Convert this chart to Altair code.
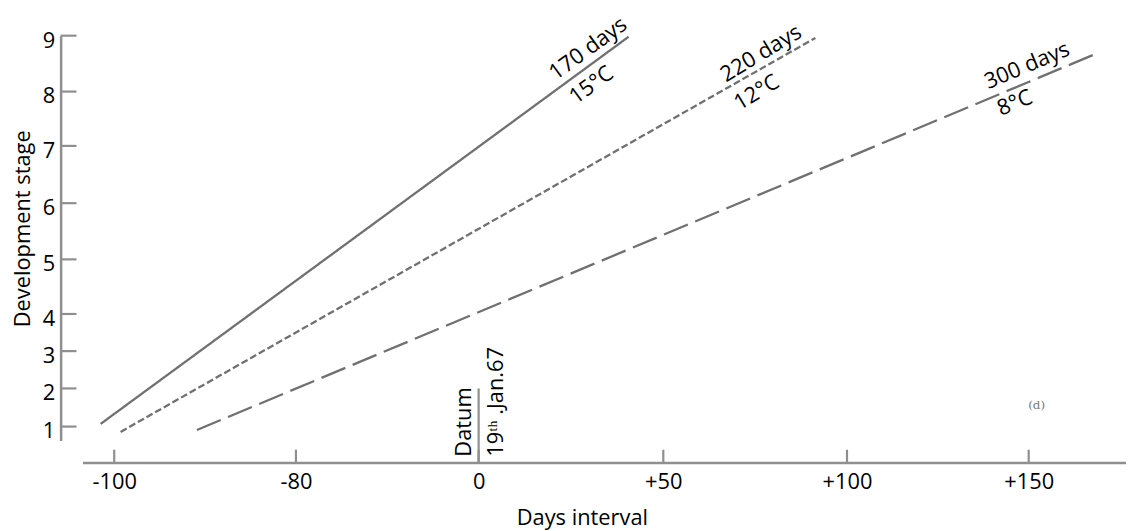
import altair as alt
import pandas as pd

# ---------------- data ----------------
x_ticks = [-100, -80, 0, 50, 100, 150]
x_tick_labels = ["-100", "-80", "0", "+50", "+100", "+150"]
y_ticks = [1, 2, 3, 4, 5, 6, 7, 8, 9]

series = ["170 days", "220 days", "300 days"]
temps = ["15°C", "12°C", "8°C"]
x_start = [-101.5, -99.3, -90.9]
x_end = [40.6, 91.4, 169.4]
y_start = [1.07, 0.86, 0.91]
y_end = [8.98, 8.96, 8.70]

datum_x = [0]
datum_y = [2]
datum_texts = ["Datum", "19ᵗʰ .Jan.67"]
panel_tag = ["(d)"]
panel_tag_x = [150]
panel_tag_y = [1.56]

# ---------------- layout / styling ----------------
FONT = "Open Sans"
W, H = 1073, 456
GRAY = "#8f8f8f"
LINE = "#606060"

# piecewise scales (the printed axis is not evenly graduated)
x_scale = alt.Scale(domain=[-103.5, -100, -80, 0, 50, 100, 150, 176.8],
                    range=[22, 54, 237, 421, 607, 792, 975, 1073],
                    nice=False, zero=False)
y_scale = alt.Scale(domain=[0.635, 1, 2, 3, 4, 5, 6, 7, 8, 9],
                    range=[433.7, 419.7, 381.3, 343.7, 306.3, 251.3, 194.7, 137, 82.3, 26],
                    nice=False, zero=False)

lab_expr = "[" + ",".join("'%s'" % s for s in x_tick_labels) + "][indexof([" + \
    ",".join(str(v) for v in x_ticks) + "], datum.value)]"

x_axis = alt.Axis(values=x_ticks, labelExpr=lab_expr, grid=False, ticks=False, tickSize=0,
                  domainColor=GRAY, domainWidth=2.5,
                  labelFont=FONT, labelFontSize=22, labelColor="black",
                  labelBaseline="alphabetic", labelPadding=26, labelAlign="center",
                  labelFlush=False, labelOverlap=False,
                  title="Days interval", titleFont=FONT, titleFontSize=22,
                  titleFontWeight="normal", titleColor="black",
                  titleX=525, titleY=62, titleBaseline="alphabetic", titleAlign="center")
y_axis = alt.Axis(values=y_ticks, grid=False, ticks=False, tickSize=0,
                  domainColor=GRAY, domainWidth=2.5,
                  labelFont=FONT, labelFontSize=22, labelColor="black",
                  labelBaseline="alphabetic", labelPadding=6, labelOffset=11.5,
                  labelOverlap=False, labelFlush=False,
                  title="Development stage", titleFont=FONT, titleFontSize=22,
                  titleFontWeight="normal", titleColor="black",
                  titleX=-31, titleY=220, titleAngle=270,
                  titleBaseline="alphabetic", titleAlign="center")

X = alt.X("x:Q", scale=x_scale, axis=x_axis)
Y = alt.Y("y:Q", scale=y_scale, axis=y_axis)

rows = []
for i, s in enumerate(series):
    rows.append({"series": s, "x": x_start[i], "y": y_start[i], "o": 0})
    rows.append({"series": s, "x": x_end[i], "y": y_end[i], "o": 1})
lines_df = pd.DataFrame(rows)

lines = alt.Chart(lines_df).mark_line(strokeWidth=2.3, color=LINE, opacity=0.9).encode(
    x=X, y=Y, order="o:Q", detail="series:N",
    strokeDash=alt.StrokeDash("series:N", legend=None,
                              scale=alt.Scale(domain=series,
                                              range=[[1, 0], [7, 3], [26, 8]])))

# axis ticks (pointing inward)
yt = alt.Chart(pd.DataFrame({"y": y_ticks})).mark_rule(color=GRAY, strokeWidth=2.2).encode(
    y=Y, x=alt.value(0), x2=alt.value(16))
xt = alt.Chart(pd.DataFrame({"x": x_ticks})).mark_rule(color=GRAY, strokeWidth=2.2).encode(
    x=X, y=alt.value(443), y2=alt.value(H))

# datum line
datum = alt.Chart(pd.DataFrame({"x": datum_x, "y": datum_y})).mark_rule(
    color=GRAY, strokeWidth=2.2).encode(x=X, y=Y, y2=alt.value(H))
datum_txt1 = alt.Chart(pd.DataFrame({"x": datum_x, "t": [datum_texts[0]]})).mark_text(
    font=FONT, fontSize=22, angle=270, align="left", baseline="alphabetic",
    dy=-8, color="black").encode(x=X, y=alt.value(450), text="t:N")
datum_txt2 = alt.Chart(pd.DataFrame({"x": datum_x, "t": [datum_texts[1]]})).mark_text(
    font=FONT, fontSize=22, angle=270, align="left", baseline="alphabetic",
    dy=25, color="black").encode(x=X, y=alt.value(450), text="t:N")

# line labels
angles = [323.8, 329.0, 337.3]
days_off = [(-40, -14.5), (-55, -15), (-72, -16)]
temp_off = [(-59, 17), (-79, 16.5), (-98, 14)]
labels = []
for i in range(3):
    d = pd.DataFrame({"x": [x_end[i]], "y": [y_end[i]], "a": [series[i]], "b": [temps[i]]})
    labels.append(alt.Chart(d).mark_text(font=FONT, fontSize=22, angle=angles[i],
                                         align="center", baseline="middle",
                                         dx=days_off[i][0], dy=days_off[i][1],
                                         color="black").encode(x=X, y=Y, text="a:N"))
    labels.append(alt.Chart(d).mark_text(font=FONT, fontSize=22, angle=angles[i],
                                         align="center", baseline="middle",
                                         dx=temp_off[i][0], dy=temp_off[i][1],
                                         color="black").encode(x=X, y=Y, text="b:N"))

tag = alt.Chart(pd.DataFrame({"x": panel_tag_x, "y": panel_tag_y, "t": panel_tag})).mark_text(
    font="DejaVu Serif", fontSize=12, color="#777777", align="center", baseline="middle",
    dx=8).encode(x=X, y=Y, text="t:N")

chart = alt.layer(lines, yt, xt, datum, datum_txt1, datum_txt2, *labels, tag).properties(
    width=W, height=H,
    padding={"left": 53, "top": 0, "right": 0, "bottom": 67},
    autosize=alt.AutoSizeParams(type="none"),
    background="white",
).configure_view(strokeWidth=0)

chart.save("out.html", embed_options={"renderer": "svg", "actions": False})
